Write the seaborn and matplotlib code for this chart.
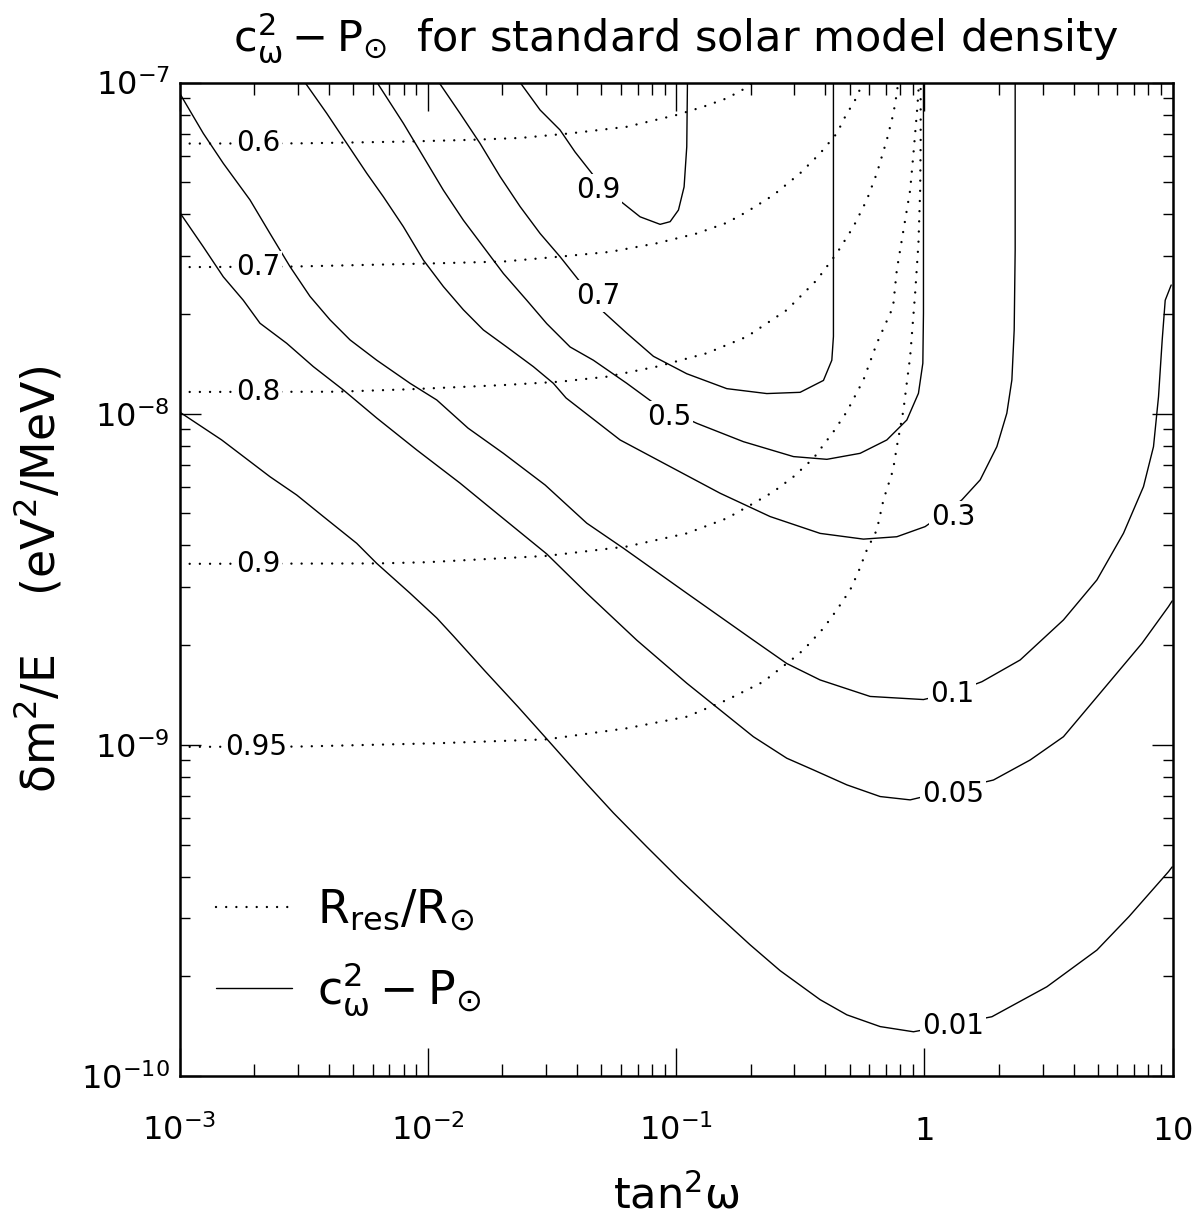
import numpy as np
import matplotlib
matplotlib.use("Agg")
import matplotlib.pyplot as plt
import seaborn as sns
from matplotlib.ticker import LogLocator, NullFormatter
from matplotlib.lines import Line2D

# ---------------- data ----------------
# x = tan^2(omega), y = delta m^2 / E  [eV^2/MeV]
# solid contours: c_w^2 - P_sun
p90_x = [0.02355, 0.02835, 0.0341, 0.0392, 0.04634, 0.05375, 0.06237, 0.07168, 0.0863, 0.0947, 0.1023, 0.1078, 0.1105, 0.1112]
p90_y = [1.0e-7, 8.26e-8, 7.19e-8, 6.17e-8, 5.26e-8, 4.67e-8, 4.27e-8, 3.93e-8, 3.73e-8, 3.80e-8, 4.12e-8, 4.84e-8, 6.40e-8, 1.0e-7]

p70_x = [0.01110, 0.01349, 0.01624, 0.01956, 0.02355, 0.02835, 0.0341, 0.04108, 0.04548, 0.05097, 0.06335, 0.0811, 0.1105, 0.1602, 0.2322, 0.3162, 0.3926, 0.4243, 0.4307, 0.4307]
p70_y = [1.0e-7, 8.07e-8, 6.55e-8, 5.20e-8, 4.22e-8, 3.50e-8, 2.98e-8, 2.50e-8, 2.27e-8, 2.03e-8, 1.75e-8, 1.49e-8, 1.32e-8, 1.19e-8, 1.15e-8, 1.16e-8, 1.26e-8, 1.45e-8, 1.71e-8, 1.0e-7]

p50_x = [0.006249, 0.007975, 0.00960, 0.01156, 0.01391, 0.01675, 0.02017, 0.02505, 0.03016, 0.03745, 0.04647, 0.06335, 0.07991, 0.09645, 0.1213, 0.1869, 0.2972, 0.4052, 0.5516, 0.7068, 0.851, 0.9476, 0.987, 0.9927, 0.9927]
p50_y = [1.0e-7, 7.53e-8, 5.97e-8, 4.73e-8, 3.84e-8, 3.19e-8, 2.65e-8, 2.20e-8, 1.87e-8, 1.59e-8, 1.45e-8, 1.235e-8, 1.087e-8, 1.012e-8, 9.35e-9, 8.23e-9, 7.42e-9, 7.28e-9, 7.59e-9, 8.33e-9, 9.57e-9, 1.152e-8, 1.42e-8, 2.01e-8, 1.0e-7]

p30_x = [0.003203, 0.003918, 0.004718, 0.005679, 0.006624, 0.007975, 0.00960, 0.01156, 0.01391, 0.01675, 0.02081, 0.02662, 0.03206, 0.03608, 0.05954, 0.0947, 0.1506, 0.2394, 0.3807, 0.5689, 0.7755, 1.0083, 1.1915, 1.4173, 1.680, 1.961, 2.151, 2.254, 2.303, 2.324, 2.324]
p30_y = [1.0e-7, 8.07e-8, 6.55e-8, 5.32e-8, 4.52e-8, 3.67e-8, 2.91e-8, 2.42e-8, 2.06e-8, 1.79e-8, 1.59e-8, 1.387e-8, 1.235e-8, 1.115e-8, 8.33e-9, 6.92e-9, 5.75e-9, 4.89e-9, 4.35e-9, 4.18e-9, 4.25e-9, 4.56e-9, 4.98e-9, 5.49e-9, 6.31e-9, 7.95e-9, 1.003e-8, 1.264e-8, 1.79e-8, 3.12e-8, 1.0e-7]

p10_x = [0.001, 0.001247, 0.001501, 0.001923, 0.002315, 0.002787, 0.003355, 0.004040, 0.004864, 0.006232, 0.008486, 0.01087, 0.01454, 0.02017, 0.02970, 0.04371, 0.06122, 0.1105, 0.2050, 0.2795, 0.3807, 0.6053, 0.9927, 1.295, 1.707, 2.434, 3.637, 4.960, 6.348, 7.640, 8.384, 8.783, 9.089, 9.346, 9.88]
p10_y = [9.30e-8, 7.02e-8, 5.70e-8, 4.42e-8, 3.50e-8, 2.78e-8, 2.26e-8, 1.92e-8, 1.67e-8, 1.45e-8, 1.235e-8, 1.10e-8, 9.04e-9, 7.59e-9, 6.09e-9, 4.67e-9, 3.93e-9, 2.87e-9, 2.07e-9, 1.76e-9, 1.57e-9, 1.40e-9, 1.37e-9, 1.435e-9, 1.551e-9, 1.804e-9, 2.383e-9, 3.147e-9, 4.355e-9, 6.02e-9, 7.95e-9, 1.125e-8, 1.67e-8, 2.20e-8, 2.446e-8]

p05_x = [0.001, 0.001247, 0.001501, 0.001807, 0.002110, 0.002703, 0.003460, 0.004571, 0.006232, 0.009030, 0.01349, 0.01749, 0.03016, 0.04371, 0.06952, 0.1105, 0.1506, 0.2050, 0.2795, 0.3577, 0.4879, 0.6643, 0.8774, 1.295, 1.900, 2.671, 3.637, 4.960, 7.536, 9.636, 9.97]
p05_y = [4.06e-8, 3.19e-8, 2.59e-8, 2.20e-8, 1.875e-8, 1.631e-8, 1.387e-8, 1.179e-8, 9.70e-9, 7.77e-9, 6.17e-9, 5.26e-9, 3.77e-9, 2.87e-9, 2.07e-9, 1.535e-9, 1.274e-9, 1.058e-9, 9.11e-10, 8.40e-10, 7.57e-10, 6.98e-10, 6.82e-10, 7.31e-10, 7.83e-10, 9.00e-10, 1.058e-9, 1.395e-9, 2.026e-9, 2.615e-9, 2.72e-9]

p01_x = [0.001, 0.001479, 0.002315, 0.002966, 0.003797, 0.005174, 0.006232, 0.008486, 0.01087, 0.01268, 0.01701, 0.02311, 0.03016, 0.04371, 0.05595, 0.07629, 0.1039, 0.1438, 0.1988, 0.2627, 0.3807, 0.4879, 0.6643, 0.9048, 1.295, 1.873, 3.119, 4.960, 6.680, 9.636, 9.97]
p01_y = [1.012e-8, 8.33e-9, 6.45e-9, 5.68e-9, 4.89e-9, 4.06e-9, 3.53e-9, 2.87e-9, 2.416e-9, 2.132e-9, 1.670e-9, 1.302e-9, 1.042e-9, 7.62e-10, 6.23e-10, 4.92e-10, 3.91e-10, 3.11e-10, 2.49e-10, 2.08e-10, 1.70e-10, 1.53e-10, 1.41e-10, 1.36e-10, 1.43e-10, 1.51e-10, 1.86e-10, 2.40e-10, 3.03e-10, 4.14e-10, 4.28e-10]

# dotted contours: R_res / R_sun
r60_x = [0.001, 0.003058, 0.00795, 0.01481, 0.02355, 0.03745, 0.06335, 0.1007, 0.1289, 0.1602, 0.1899, 0.2025]
r60_y = [6.54e-8, 6.55e-8, 6.63e-8, 6.71e-8, 6.80e-8, 7.02e-8, 7.35e-8, 7.98e-8, 8.45e-8, 8.96e-8, 9.60e-8, 1.0e-7]

r70_x = [0.001, 0.002787, 0.009908, 0.02017, 0.0341, 0.05425, 0.08369, 0.1213, 0.1602, 0.1929, 0.2468, 0.3162, 0.3807, 0.4444, 0.4877, 0.5185, 0.5432, 0.5621]
r70_y = [2.77e-8, 2.78e-8, 2.84e-8, 2.88e-8, 2.98e-8, 3.08e-8, 3.27e-8, 3.50e-8, 3.77e-8, 4.07e-8, 4.57e-8, 5.32e-8, 6.11e-8, 7.02e-8, 8.07e-8, 8.65e-8, 9.28e-8, 1.0e-7]

r80_x = [0.001, 0.004299, 0.008486, 0.02017, 0.0341, 0.05260, 0.08369, 0.1330, 0.1929, 0.2795, 0.3693, 0.4444, 0.5185, 0.5870, 0.6442, 0.7068, 0.7514, 0.7755, 0.7848]
r80_y = [1.163e-8, 1.165e-8, 1.185e-8, 1.220e-8, 1.249e-8, 1.293e-8, 1.387e-8, 1.522e-8, 1.708e-8, 2.056e-8, 2.533e-8, 3.05e-8, 3.67e-8, 4.42e-8, 5.32e-8, 6.71e-8, 8.07e-8, 9.28e-8, 1.0e-7]

r90_x = [0.001, 0.006232, 0.009908, 0.03016, 0.06335, 0.1105, 0.1602, 0.2050, 0.2468, 0.2972, 0.3577, 0.4307, 0.4877, 0.5689, 0.6442, 0.7487, 0.7755, 0.8245, 0.8774, 0.9048, 0.9337, 0.9476, 0.9493]
r90_y = [3.52e-9, 3.53e-9, 3.56e-9, 3.72e-9, 3.97e-9, 4.35e-9, 4.83e-9, 5.36e-9, 5.81e-9, 6.45e-9, 7.33e-9, 8.82e-9, 1.014e-8, 1.264e-8, 1.631e-8, 2.10e-8, 2.72e-8, 3.58e-8, 4.73e-8, 6.11e-8, 8.07e-8, 9.38e-8, 1.0e-7]

r95_x = [0.001, 0.003010, 0.01087, 0.03016, 0.06335, 0.1105, 0.1602, 0.2249, 0.2972, 0.3261, 0.3926, 0.4444, 0.5029, 0.5432, 0.5870, 0.6442, 0.6849, 0.7487, 0.7755, 0.8245, 0.8534, 0.8774, 0.9190, 0.9476, 0.9627, 0.9672, 0.9672]
r95_y = [9.86e-10, 9.88e-10, 1.011e-9, 1.039e-9, 1.122e-9, 1.216e-9, 1.366e-9, 1.551e-9, 1.826e-9, 1.934e-9, 2.249e-9, 2.555e-9, 2.935e-9, 3.333e-9, 3.877e-9, 4.455e-9, 5.49e-9, 6.76e-9, 7.95e-9, 1.026e-8, 1.264e-8, 1.486e-8, 2.31e-8, 3.27e-8, 4.73e-8, 6.71e-8, 1.0e-7]

# contour labels (text, x, y)
solid_label_text = ["0.9", "0.7", "0.5", "0.3", "0.1", "0.05", "0.01"]
solid_label_x = [0.0486, 0.0486, 0.0938, 1.307, 1.295, 1.307, 1.307]
solid_label_y = [4.73e-8, 2.27e-8, 9.77e-9, 4.88e-9, 1.425e-9, 7.11e-10, 1.416e-10]

dot_label_text = ["0.6", "0.7", "0.8", "0.9", "0.95"]
dot_label_x = [0.00207, 0.00207, 0.00207, 0.00207, 0.00203]
dot_label_y = [6.56e-8, 2.77e-8, 1.163e-8, 3.52e-9, 9.86e-10]

x_ticks = [1e-3, 1e-2, 1e-1, 1, 10]
x_tick_labels = [r"$10^{-3}$", r"$10^{-2}$", r"$10^{-1}$", r"$1$", r"$10$"]
y_ticks = [1e-10, 1e-9, 1e-8, 1e-7]
y_tick_labels = [r"$10^{-10}$", r"$10^{-9}$", r"$10^{-8}$", r"$10^{-7}$"]

# ---------------- styling ----------------
sns.set_theme(style="ticks")
plt.rcParams["font.family"] = ["DejaVu Sans"]
plt.rcParams["mathtext.fontset"] = "dejavusans"
plt.rcParams["mathtext.default"] = "regular"
plt.rcParams["axes.linewidth"] = 1.8
plt.rcParams["axes.edgecolor"] = "black"
plt.rcParams["text.color"] = "black"
plt.rcParams["axes.labelcolor"] = "black"
plt.rcParams["xtick.color"] = "black"
plt.rcParams["ytick.color"] = "black"
plt.rcParams["xtick.labelcolor"] = "black"
plt.rcParams["ytick.labelcolor"] = "black"

SOLID_LW = 1.0
DOT_LW = 1.7
DOT_STYLE = (0, (0.01, 4.3))

fig = plt.figure(figsize=(12.01, 12.22), dpi=100)
ax = fig.add_axes([179.5 / 1201, 1 - 1076 / 1222, 993 / 1201, 993.5 / 1222])
ax.set_xscale("log")
ax.set_yscale("log")
ax.set_xlim(1e-3, 10)
ax.set_ylim(1e-10, 1e-7)

solid_curves = [(p90_x, p90_y), (p70_x, p70_y), (p50_x, p50_y), (p30_x, p30_y),
                (p10_x, p10_y), (p05_x, p05_y), (p01_x, p01_y)]
dotted_curves = [(r60_x, r60_y), (r70_x, r70_y), (r80_x, r80_y), (r90_x, r90_y), (r95_x, r95_y)]

for cx, cy in solid_curves:
    sns.lineplot(x=cx, y=cy, sort=False, estimator=None, color="black",
                 linewidth=SOLID_LW, ax=ax)
    ax.lines[-1].set_solid_joinstyle("round")
for cx, cy in dotted_curves:
    sns.lineplot(x=cx, y=cy, sort=False, estimator=None, color="black",
                 linewidth=DOT_LW, ax=ax)
    ln = ax.lines[-1]
    ln.set_linestyle(DOT_STYLE)
    ln.set_dash_capstyle("round")

box = dict(facecolor="white", edgecolor="none", pad=1.5)
for t, lx, ly in zip(solid_label_text, solid_label_x, solid_label_y):
    ax.text(lx, ly, t, fontsize=20, ha="center", va="center", bbox=box, zorder=5,
            color="black")
for t, lx, ly in zip(dot_label_text, dot_label_x, dot_label_y):
    ax.text(lx, ly, t, fontsize=20, ha="center", va="center", bbox=box, zorder=5,
            color="black")

# ticks
ax.xaxis.set_minor_locator(LogLocator(base=10, subs=np.arange(2, 10), numticks=20))
ax.yaxis.set_minor_locator(LogLocator(base=10, subs=np.arange(2, 10), numticks=20))
ax.xaxis.set_minor_formatter(NullFormatter())
ax.yaxis.set_minor_formatter(NullFormatter())
ax.set_xticks(x_ticks, x_tick_labels, va="baseline")
ax.set_yticks(y_ticks, y_tick_labels)
ax.tick_params(axis="both", which="both", direction="in", top=True, right=True,
               colors="black", width=1.0)
ax.tick_params(axis="x", which="major", length=20, pad=46, labelsize=23)
ax.tick_params(axis="x", which="minor", length=8.6)
ax.tick_params(axis="y", which="major", length=15, pad=7, labelsize=23)
ax.tick_params(axis="y", which="minor", length=7.5)

ax.set_xlabel(r"$tan^{2}\omega$", fontsize=31, labelpad=20, color="black")
ax.set_ylabel(r"$\delta m^{2}/E$    $(eV^{2}/MeV)$", fontsize=33, labelpad=12,
              color="black")

fig.text(676 / 1201, 1 - 38 / 1222,
         r"$c_{\omega}^{2} - P_{\odot}$  for standard solar model density",
         fontsize=31, ha="center", va="center", color="black")

handles = [Line2D([], [], color="black", linewidth=DOT_LW, linestyle=DOT_STYLE,
                  dash_capstyle="round"),
           Line2D([], [], color="black", linewidth=SOLID_LW)]
labels = [r"$R_{res}/R_{\odot}$", r"$c_{\omega}^{2} - P_{\odot}$"]
leg = ax.legend(handles, labels, loc="lower left", bbox_to_anchor=(0.037, 0.058),
                frameon=False, fontsize=33, handlelength=1.65, handletextpad=0.55,
                labelspacing=0.6, borderpad=0, borderaxespad=0)
for txt in leg.get_texts():
    txt.set_color("black")

fig.savefig("out.png", dpi=100)
